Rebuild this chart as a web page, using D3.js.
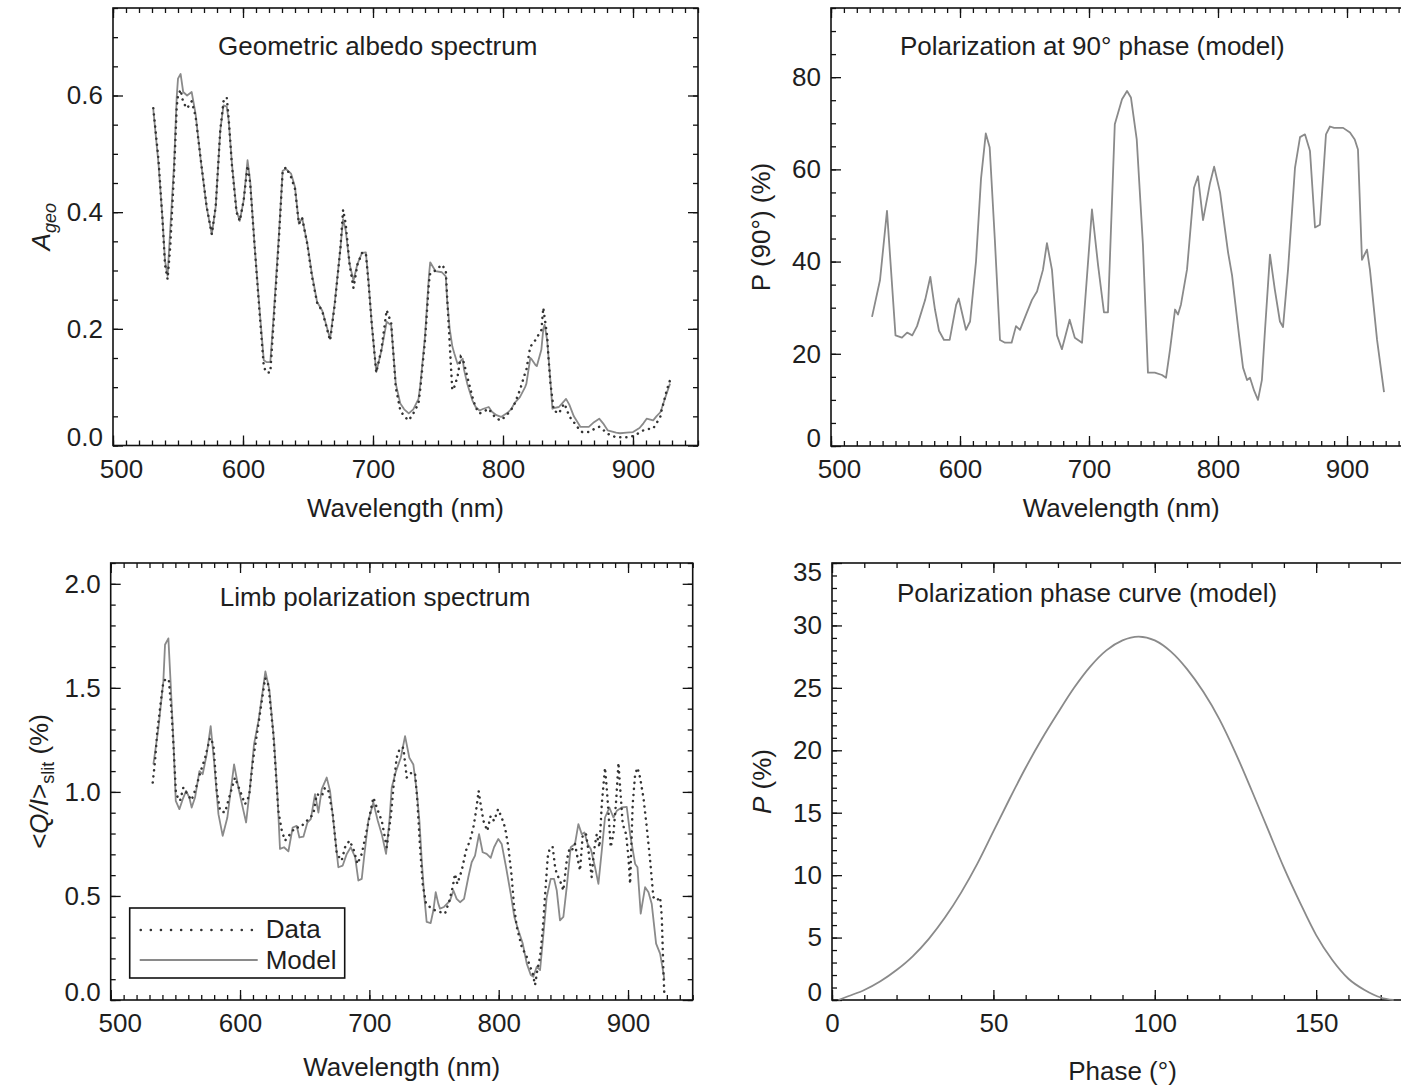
<!DOCTYPE html>
<html>
<head>
<meta charset="utf-8">
<script src="https://cdn.jsdelivr.net/npm/d3@7"></script>
<style>
  body { margin: 0; background: #fff; }
  svg { display: block; }
</style>
</head>
<body>
<div id="chart"></div>
<script>
// ---- panel 1: geometric albedo (data + model, same wavelength grid)
const albedoWl = [531, 535, 538, 540, 542, 544, 547, 549, 550, 552, 554, 557, 560.5, 563.5, 567.5, 572, 576, 579, 582.5, 585,
  587.5, 589, 591.5, 595, 597.5, 600.5, 603.5, 605.5, 609, 613, 616, 618, 621, 623.5, 627.5, 630.5, 633, 637, 640, 643,
  645.5, 649.5, 653, 657, 661, 667, 670.5, 675, 677, 679, 682, 685, 688, 691.5, 694.5, 696.5, 699, 702.5, 706.5, 710.5,
  714, 717.5, 721, 724, 727.5, 731, 735, 736.5, 740, 743, 744, 748, 753, 756, 757, 759, 761, 762.5, 765, 767.5,
  769, 770, 772.5, 776.5, 779, 782, 785, 789, 791.5, 795, 798.5, 804, 806.5, 809, 813, 817, 818, 821, 822, 825,
  826, 829.5, 831, 832, 834, 835, 836.5, 838, 839, 843, 847, 848.5, 851, 854.5, 859.5, 861, 866, 870, 874, 877,
  880.5, 887, 890, 895, 900, 905, 908, 910.5, 915.5, 918, 921, 922, 926, 928.5];
const albedoModel = [.576, .483, .391, .317, .291, .369, .483, .597, .629, .637, .606, .600, .606, .569, .489, .409, .362, .409, .540, .583,
  .581, .557, .483, .403, .385, .420, .489, .454, .340, .226, .146, .143, .143, .220, .357, .471, .474, .466, .443, .380,
  .390, .346, .294, .246, .231, .183, .243, .340, .388, .369, .311, .283, .311, .330, .331, .283, .209, .126, .163, .212,
  .206, .106, .072, .062, .055, .062, .080, .106, .187, .290, .314, .299, .297, .290, .250, .200, .170, .158, .140, .145,
  .149, .130, .106, .077, .066, .060, .063, .066, .058, .052, .049, .057, .063, .073, .083, .100, .106, .150, .148, .138,
  .136, .164, .200, .207, .180, .152, .110, .063, .064, .066, .076, .080, .070, .050, .032, .032, .032, .040, .046, .038,
  .026, .022, .021, .022, .023, .030, .038, .046, .043, .050, .057, .063, .090, .106];
const albedoData = [.578, .490, .390, .310, .285, .340, .470, .580, .600, .610, .588, .578, .590, .565, .490, .410, .362, .410, .540, .590,
  .597, .560, .480, .400, .385, .420, .480, .450, .340, .220, .135, .125, .125, .210, .350, .470, .477, .460, .440, .380,
  .390, .345, .290, .245, .230, .180, .240, .340, .404, .380, .310, .270, .310, .330, .330, .280, .210, .125, .165, .232,
  .210, .100, .060, .050, .043, .055, .072, .100, .180, .279, .295, .300, .310, .300, .256, .175, .095, .100, .118, .152,
  .148, .141, .118, .083, .065, .055, .058, .063, .055, .046, .043, .055, .062, .072, .095, .124, .130, .170, .172, .181,
  .185, .198, .236, .220, .187, .150, .106, .080, .060, .055, .072, .065, .050, .040, .025, .023, .023, .028, .032, .027,
  .020, .014, .014, .014, .016, .022, .026, .028, .029, .038, .049, .060, .095, .112];

// ---- panel 2: polarization at 90 deg phase (model)
const pol90Wl = [531.8, 538, 543.4, 550, 555, 559, 563, 566.7, 573, 577, 580.6, 583.7, 587.6, 592, 597, 599, 604.6, 607.8, 612.4, 616.3,
  620, 623, 627, 631, 634.9, 640, 643.4, 646.5, 651.2, 655.8, 659.7, 664.3, 667.4, 671.3, 675.2, 679, 685, 689, 694.6, 702.3,
  707, 711.6, 714.7, 720, 725.6, 729.5, 732.5, 737, 741.8, 745.7, 751, 756.6, 759.7, 762.8, 766.7, 769, 771.3, 776, 781.4, 784.5,
  788.4, 793.8, 797, 801.6, 805.4, 807.8, 810.9, 816.3, 819.4, 822.5, 824.8, 828, 831, 834, 836.4, 840.3, 844, 848, 850.4, 854.3,
  859.7, 863.6, 867.4, 871.3, 875.2, 879, 883.7, 886.8, 890, 897, 902.3, 906, 908.5, 911.6, 915.5, 917.8, 923.3, 928.7];
const pol90Model = [28.0, 36, 51, 24, 23.5, 24.6, 24, 26, 31.7, 36.7, 29.6, 25, 23, 23, 30.6, 32, 25.2, 27, 40, 58,
  67.8, 64.8, 44.8, 23, 22.4, 22.4, 26, 25.2, 28.5, 31.7, 33.5, 38.2, 44, 38.2, 24, 21, 27.4, 23.5, 22.4, 51.3,
  39.3, 29, 29, 69.8, 75.2, 77, 75.6, 66.5, 43.7, 15.9, 15.9, 15.4, 14.8, 20.9, 29.6, 28.5, 30.7, 38.3, 56, 58.5,
  49, 57, 60.6, 55, 47, 42, 37, 24, 17, 14.3, 14.8, 12, 10, 14.3, 25, 41.5, 34, 27, 25.8, 38.3,
  60.4, 67, 67.6, 64, 47.4, 48, 67.6, 69.3, 69, 69, 68, 66.5, 64.3, 40.4, 42.6, 38.2, 23, 11.7];

// ---- panel 3: limb polarization spectrum
const limbModelWl = [533, 536.9, 540.7, 542, 544.6, 546.4, 548.5, 550.3, 553.1, 555.7, 558.3, 560.8, 562.6, 565.2, 568.6, 571.1, 574.2, 577.3, 579.9, 583.3,
  586.6, 590.2, 595.4, 598.7, 601.8, 604.7, 607.7, 610.8, 614.2, 617.5, 619.6, 622.7, 626.3, 628.9, 630.9, 634, 637.4, 640.7, 643.8, 645.9,
  649, 652.1, 654.7, 658, 660.6, 663.2, 667, 669.6, 672.7, 676, 679.4, 682.5, 685.6, 689, 691.5, 694.1, 696.2, 699.2, 703.1, 706.5,
  709.6, 712.9, 715.5, 717.3, 720.6, 724.3, 727.6, 730.9, 734, 736.6, 738.7, 740.5, 742.3, 744.3, 747.4, 749.5, 751.3, 753.3, 754.6, 757.7,
  762.4, 765, 767.5, 770.1, 773.2, 776.5, 779.1, 781.7, 784.8, 787.6, 790.7, 793.8, 796.4, 799.7, 802.3, 805.7, 809.3, 812.1, 815.2, 818.6,
  821.7, 824.8, 826.8, 829.4, 832, 834.6, 837.1, 840.2, 842.8, 844.9, 847.4, 850, 852.6, 855.7, 859, 861.6, 864.2, 866.3, 868.8, 871.2,
  874.5, 877.1, 879.7, 882.2, 885.6, 888.7, 891.3, 895.1, 899, 901.6, 905.5, 907.3, 909.8, 913.2, 915.8, 918.3, 921.7, 924.8, 927.4, 928.1];
const limbModel = [1.132, 1.308, 1.531, 1.707, 1.738, 1.515, 1.244, 0.957, 0.917, 0.965, 1.005, 0.973, 0.925, 0.973, 1.1, 1.085, 1.18, 1.316, 1.148, 0.893,
  0.789, 0.877, 1.132, 1.021, 0.933, 0.853, 1.021, 1.228, 1.34, 1.483, 1.579, 1.491, 1.244, 0.989, 0.726, 0.734, 0.714, 0.829, 0.837, 0.781,
  0.785, 0.853, 0.869, 0.989, 0.901, 1.013, 1.069, 1.005, 0.829, 0.638, 0.646, 0.702, 0.734, 0.686, 0.574, 0.582, 0.702, 0.861, 0.949, 0.861,
  0.797, 0.702, 0.861, 1.021, 1.1, 1.164, 1.268, 1.164, 1.132, 1.005, 0.861, 0.67, 0.51, 0.375, 0.37, 0.431, 0.518, 0.463, 0.439, 0.447,
  0.478, 0.526, 0.486, 0.47, 0.486, 0.59, 0.662, 0.694, 0.797, 0.71, 0.702, 0.683, 0.734, 0.774, 0.75, 0.638, 0.51, 0.399, 0.335, 0.271,
  0.175, 0.12, 0.112, 0.16, 0.144, 0.319, 0.494, 0.582, 0.582, 0.526, 0.383, 0.399, 0.542, 0.734, 0.75, 0.845, 0.797, 0.805, 0.75, 0.726,
  0.638, 0.558, 0.718, 0.877, 0.925, 0.877, 0.909, 0.925, 0.928, 0.797, 0.654, 0.638, 0.415, 0.542, 0.518, 0.463, 0.271, 0.223, 0.128, 0.096];
const limbDataWl = [532.5, 534.3, 536, 538.5, 540.7, 543, 545, 547.2, 548.5, 550.5, 553.6, 556.2, 559.3, 562.5, 566, 569.1, 573, 576.8, 579.4, 582,
  584.6, 588.4, 592.3, 596.1, 600, 603.9, 607, 610, 613, 616.8, 619.4, 621.9, 625.8, 629.6, 632.3, 634.8, 638.7, 642.6, 646.4, 651.6,
  656.7, 659.3, 663.2, 665.7, 668.3, 671.7, 674.8, 678.6, 681.2, 684.6, 687.7, 690.8, 694.1, 697.9, 703.1, 705.7, 709.6, 713.4, 716.8, 718.6,
  721.1, 723.7, 726.3, 728.9, 732, 735.3, 737.1, 739.2, 741.2, 743.8, 748.2, 750.8, 754.6, 758.5, 761.9, 764.4, 766.2, 768, 771.4, 774.7,
  777.8, 780.4, 782.5, 784.5, 785.6, 788.2, 791.2, 793.8, 796.4, 799.5, 802.3, 804.9, 807.5, 810.1, 811.9, 814, 817.8, 821.7, 824.3, 826.3,
  828.1, 829.9, 832, 834, 836.1, 837.9, 839.7, 841.8, 843.6, 844.9, 847.4, 850, 852.6, 854.7, 856.5, 859, 861.6, 862.9, 865, 867.5,
  869.4, 871.9, 873.7, 875.8, 877.9, 879.7, 882.2, 883.5, 884.8, 886.6, 888.7, 890.8, 892.6, 893.9, 895.9, 898.5, 900.3, 901.6, 903.6, 905.5,
  907.3, 909.3, 911.9, 914.5, 917.1, 919.6, 922.2, 924.8, 926.1, 927.4, 928.1];
const limbData = [1.045, 1.148, 1.29, 1.42, 1.53, 1.545, 1.535, 1.372, 1.228, 0.989, 0.957, 1.021, 0.989, 0.96, 1.021, 1.09, 1.164, 1.26, 1.228, 1.005,
  0.909, 0.901, 0.989, 1.069, 1.005, 0.941, 0.98, 1.15, 1.276, 1.435, 1.547, 1.515, 1.276, 0.909, 0.813, 0.766, 0.797, 0.829, 0.829, 0.861,
  0.893, 0.989, 0.98, 1.021, 1.005, 0.893, 0.702, 0.67, 0.734, 0.766, 0.726, 0.654, 0.702, 0.813, 0.973, 0.925, 0.861, 0.734, 0.893, 1.021,
  1.164, 1.212, 1.212, 1.069, 1.09, 1.092, 0.957, 0.734, 0.558, 0.463, 0.439, 0.431, 0.423, 0.415, 0.478, 0.542, 0.606, 0.558, 0.622, 0.718,
  0.766, 0.829, 0.909, 1.005, 0.957, 0.861, 0.813, 0.885, 0.861, 0.917, 0.877, 0.829, 0.734, 0.59, 0.447, 0.351, 0.255, 0.207, 0.16, 0.128,
  0.072, 0.144, 0.207, 0.335, 0.526, 0.686, 0.734, 0.734, 0.638, 0.606, 0.574, 0.526, 0.67, 0.726, 0.718, 0.75, 0.662, 0.622, 0.797, 0.797,
  0.718, 0.59, 0.718, 0.797, 0.734, 0.941, 1.116, 1.021, 0.909, 0.734, 0.797, 0.957, 1.14, 1.021, 0.845, 0.797, 0.686, 0.558, 0.941, 1.085,
  1.116, 1.069, 0.973, 0.829, 0.67, 0.494, 0.478, 0.494, 0.399, 0.128, 0.024];

// ---- panel 4: polarization phase curve (model)
const phaseDeg = [2, 5, 10, 15, 20, 25, 30, 35, 40, 45, 50, 55, 60, 65, 70, 75, 80, 85, 90, 95,
  100, 105, 110, 115, 120, 125, 130, 135, 140, 145, 150, 155, 160, 165, 170, 174];
const phaseModel = [0, 0.3, 0.8, 1.5, 2.4, 3.5, 4.9, 6.6, 8.6, 10.9, 13.5, 16.1, 18.6, 20.9, 23.0, 25.0, 26.7, 28.0, 28.8, 29.1,
  28.8, 27.9, 26.5, 24.7, 22.5, 19.8, 16.8, 13.7, 10.6, 7.8, 5.2, 3.2, 1.7, 0.8, 0.2, 0];

// tick values
const wavelengthTicks = [500, 600, 700, 800, 900];
const albedoTicks = [0, 0.2, 0.4, 0.6];
const pol90Ticks = [0, 20, 40, 60, 80];
const limbTicks = [0, 0.5, 1.0, 1.5, 2.0];
const phaseTicks = [0, 50, 100, 150];
const phasePTicks = [0, 5, 10, 15, 20, 25, 30, 35];

const FONT = '"Liberation Sans", Arial, Helvetica, sans-serif';
const TEXT = '#1e1e1e';
const MODEL_COLOR = '#8a8a8a';
const DATA_COLOR = '#333';

const svg = d3.select('#chart').append('svg')
  .attr('width', 1401)
  .attr('height', 1086)
  .style('font-family', FONT);

// tick positions from lo up to (not past) hi
function range(lo, hi, step) {
  const n = Math.floor((hi - lo) / step + 1e-9);
  return d3.range(n + 1).map(i => +(lo + i * step).toFixed(6));
}

function drawPanel(p) {
  const g = svg.append('g').attr('transform', 'translate(' + p.left + ',' + p.top + ')');
  const x = d3.scaleLinear().domain(p.xDomain).range([0, p.width]);
  const y = d3.scaleLinear().domain(p.yDomain).range([p.height, 0]);

  const xMinor = range(p.xDomain[0], p.xDomain[1], p.xMinor);
  const yMinor = range(p.yDomain[0], p.yDomain[1], p.yMinor);
  const xMajorAll = range(p.xDomain[0], p.xDomain[1], p.xMajorStep);
  const yMajorAll = range(p.yDomain[0], p.yDomain[1], p.yMajorStep);

  const style = sel => sel.call(s => s.select('.domain').remove())
    .attr('font-family', FONT).attr('font-size', 26)
    .call(s => s.selectAll('line').attr('stroke', '#111').attr('stroke-width', 1.3))
    .call(s => s.selectAll('text').attr('fill', TEXT));

  // minor ticks, all four sides
  g.append('g').attr('transform', 'translate(0,' + p.height + ')')
    .call(d3.axisBottom(x).tickValues(xMinor).tickSize(-5).tickFormat('')).call(style);
  g.append('g').call(d3.axisTop(x).tickValues(xMinor).tickSize(-5).tickFormat('')).call(style);
  g.append('g').call(d3.axisLeft(y).tickValues(yMinor).tickSize(-5).tickFormat('')).call(style);
  g.append('g').attr('transform', 'translate(' + p.width + ',0)')
    .call(d3.axisRight(y).tickValues(yMinor).tickSize(-5).tickFormat('')).call(style);

  // major ticks
  g.append('g').call(d3.axisTop(x).tickValues(xMajorAll).tickSize(-10).tickFormat('')).call(style);
  g.append('g').attr('transform', 'translate(' + p.width + ',0)')
    .call(d3.axisRight(y).tickValues(yMajorAll).tickSize(-10).tickFormat('')).call(style);

  const xAxis = g.append('g').attr('transform', 'translate(0,' + p.height + ')')
    .call(d3.axisBottom(x).tickValues(p.xTicks).tickSize(-10).tickPadding(14).tickFormat(p.xFormat))
    .call(style);
  xAxis.selectAll('.tick text').attr('x', d => (d === p.xDomain[0] ? p.firstXShift : 0));

  const yAxis = g.append('g')
    .call(d3.axisLeft(y).tickValues(p.yTicks).tickSize(-10).tickPadding(10).tickFormat(p.yFormat))
    .call(style);
  yAxis.selectAll('.tick text').attr('y', d => {
    if (d === p.yDomain[0]) return -8;
    if (d === p.yDomain[1]) return 9;
    return 0;
  });

  g.append('rect')
    .attr('width', p.width).attr('height', p.height)
    .attr('fill', 'none').attr('stroke', '#111').attr('stroke-width', 1.6);

  g.append('text')
    .attr('x', p.titleX).attr('y', p.titleY)
    .attr('font-size', 26).attr('fill', TEXT)
    .text(p.title);

  g.append('text')
    .attr('x', p.width / 2).attr('y', p.height + p.xLabelOffset)
    .attr('text-anchor', 'middle')
    .attr('font-size', 26).attr('fill', TEXT)
    .text(p.xLabel);

  const yl = g.append('text')
    .attr('transform', 'translate(' + (-p.yLabelOffset) + ',' + (p.height / 2) + ') rotate(-90)')
    .attr('text-anchor', 'middle')
    .attr('font-size', 26).attr('fill', TEXT);
  p.yLabel(yl);

  return { g: g, x: x, y: y };
}

function addLine(panel, xs, ys, dotted, curve) {
  const line = d3.line()
    .x(d => panel.x(d[0]))
    .y(d => panel.y(d[1]))
    .curve(curve || d3.curveLinear);
  const path = panel.g.append('path')
    .datum(d3.zip(xs, ys))
    .attr('fill', 'none')
    .attr('d', line);
  if (dotted) {
    path.attr('stroke', DATA_COLOR).attr('stroke-width', 2.5)
      .attr('stroke-linecap', 'round').attr('stroke-dasharray', '0.1,6');
  } else {
    path.attr('stroke', MODEL_COLOR).attr('stroke-width', 1.8)
      .attr('stroke-linejoin', 'round');
  }
}

// ---- top left
const p1 = drawPanel({
  left: 113, top: 8, width: 585, height: 437.5,
  xDomain: [500, 950], yDomain: [0, 0.75],
  xMinor: 10, yMinor: 0.05, xMajorStep: 100, yMajorStep: 0.2,
  xTicks: wavelengthTicks, yTicks: albedoTicks,
  xFormat: d3.format('d'), yFormat: d3.format('.1f'),
  firstXShift: 8,
  title: 'Geometric albedo spectrum', titleX: 105, titleY: 47,
  xLabel: 'Wavelength (nm)', xLabelOffset: 71, yLabelOffset: 63,
  yLabel: t => {
    t.append('tspan').attr('font-style', 'italic').text('A');
    t.append('tspan').attr('font-style', 'italic').attr('font-size', 18).attr('dy', 6).text('geo');
  }
});
addLine(p1, albedoWl, albedoModel, false);
addLine(p1, albedoWl, albedoData, true);

// ---- top right
const p2 = drawPanel({
  left: 831, top: 8, width: 580.5, height: 438,
  xDomain: [500, 950], yDomain: [0, 95],
  xMinor: 10, yMinor: 5, xMajorStep: 100, yMajorStep: 20,
  xTicks: wavelengthTicks, yTicks: pol90Ticks,
  xFormat: d3.format('d'), yFormat: d3.format('d'),
  firstXShift: 8,
  title: 'Polarization at 90\u00b0 phase (model)', titleX: 69, titleY: 47,
  xLabel: 'Wavelength (nm)', xLabelOffset: 71, yLabelOffset: 61,
  yLabel: t => t.text('P (90\u00b0) (%)')
});
addLine(p2, pol90Wl, pol90Model, false);

// ---- bottom left
const p3 = drawPanel({
  left: 110.7, top: 563, width: 582, height: 437,
  xDomain: [500, 950], yDomain: [0, 2.1],
  xMinor: 10, yMinor: 0.1, xMajorStep: 100, yMajorStep: 0.5,
  xTicks: wavelengthTicks, yTicks: limbTicks,
  xFormat: d3.format('d'), yFormat: d3.format('.1f'),
  firstXShift: 9,
  title: 'Limb polarization spectrum', titleX: 109, titleY: 43,
  xLabel: 'Wavelength (nm)', xLabelOffset: 76, yLabelOffset: 63,
  yLabel: t => {
    t.append('tspan').text('<');
    t.append('tspan').attr('font-style', 'italic').text('Q/I');
    t.append('tspan').text('>');
    t.append('tspan').attr('font-size', 18).attr('dy', 6).text('slit');
    t.append('tspan').attr('dy', -6).text(' (%)');
  }
});
addLine(p3, limbModelWl, limbModel, false);
addLine(p3, limbDataWl, limbData, true);

// legend
const leg = p3.g.append('g').attr('transform', 'translate(19,345)');
leg.append('rect').attr('width', 215).attr('height', 70)
  .attr('fill', '#fff').attr('stroke', '#111').attr('stroke-width', 1.6);
leg.append('line').attr('x1', 11).attr('x2', 128).attr('y1', 22).attr('y2', 22)
  .attr('stroke', DATA_COLOR).attr('stroke-width', 2.5)
  .attr('stroke-linecap', 'round').attr('stroke-dasharray', '0.1,10');
leg.append('line').attr('x1', 10).attr('x2', 128).attr('y1', 52).attr('y2', 52)
  .attr('stroke', MODEL_COLOR).attr('stroke-width', 1.8);
leg.append('text').attr('x', 136).attr('y', 30).attr('font-size', 26).attr('fill', TEXT).text('Data');
leg.append('text').attr('x', 136).attr('y', 61).attr('font-size', 26).attr('fill', TEXT).text('Model');

// ---- bottom right
const p4 = drawPanel({
  left: 832, top: 563, width: 581, height: 437,
  xDomain: [0, 180], yDomain: [0, 35],
  xMinor: 10, yMinor: 1, xMajorStep: 50, yMajorStep: 5,
  xTicks: phaseTicks, yTicks: phasePTicks,
  xFormat: d3.format('d'), yFormat: d3.format('d'),
  firstXShift: 0,
  title: 'Polarization phase curve (model)', titleX: 65, titleY: 39,
  xLabel: 'Phase (\u00b0)', xLabelOffset: 80, yLabelOffset: 61,
  yLabel: t => {
    t.append('tspan').attr('font-style', 'italic').text('P');
    t.append('tspan').text(' (%)');
  }
});
addLine(p4, phaseDeg, phaseModel, false, d3.curveMonotoneX);
</script>
</body>
</html>
